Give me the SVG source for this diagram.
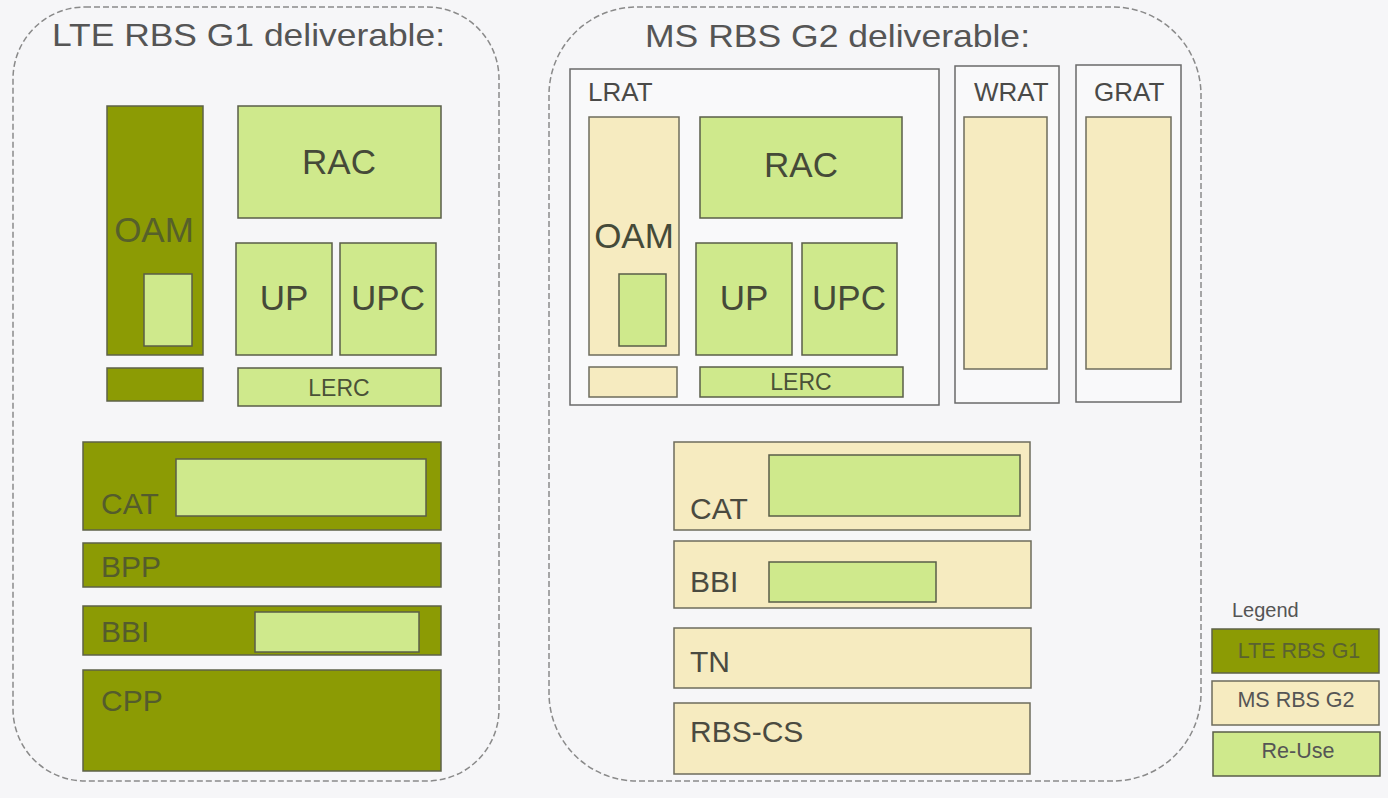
<svg xmlns="http://www.w3.org/2000/svg" width="1388" height="798" viewBox="0 0 1388 798">
<style>
text{font-family:"Liberation Sans",Arial,sans-serif;}
.bg{fill:#f6f6f8;}
.panel{fill:none;stroke:#8a8a8a;stroke-width:1.5;stroke-dasharray:6 3;}
.g1{fill:#8c9b04;stroke:#5e6248;stroke-width:1.5;}
.g2{fill:#f6ebc0;stroke:#6e6c5c;stroke-width:1.5;}
.re{fill:#cfe98c;stroke:#5a5e48;stroke-width:1.5;}
.rat{fill:#f9f9fa;stroke:#6a6a6a;stroke-width:1.5;}
.title{font-size:32px;fill:#555555;}
.big{font-size:35px;fill:#454a38;text-anchor:middle;}
.bigd{font-size:35px;fill:#56602a;text-anchor:middle;}
.mid{font-size:30px;fill:#4a4a40;}
.midd{font-size:30px;fill:#545c2c;}
.sm{font-size:23px;fill:#4a5238;text-anchor:middle;}
.rl{font-size:26px;fill:#4a4a48;}
.lg{font-size:21.5px;fill:#555555;text-anchor:middle;}
</style>
<rect class="bg" x="0" y="0" width="1388" height="798"/>

<g id="panel-g1">
<rect class="panel" x="13" y="7" width="486" height="774" rx="72" ry="72"/>
<text class="title" x="52" y="46" textLength="393" lengthAdjust="spacingAndGlyphs">LTE RBS G1 deliverable:</text>
</g>
<g id="panel-g2">
<rect class="panel" x="549" y="7" width="652" height="774" rx="88" ry="88"/>
<text class="title" x="645" y="47" textLength="385" lengthAdjust="spacingAndGlyphs">MS RBS G2 deliverable:</text>
</g>

<g id="g1-oam">
<rect class="g1" x="107" y="106" width="96" height="249"/>
<text class="bigd" x="154" y="242">OAM</text>
<rect class="re" x="144" y="274" width="48" height="72"/>
</g>
<g id="g1-oam-base"><rect class="g1" x="107" y="368" width="96" height="33"/></g>
<g id="g1-rac"><rect class="re" x="238" y="106" width="203" height="112"/><text class="big" x="339" y="174">RAC</text></g>
<g id="g1-up"><rect class="re" x="236" y="243" width="96" height="112"/><text class="big" x="284" y="310">UP</text></g>
<g id="g1-upc"><rect class="re" x="340" y="243" width="96" height="112"/><text class="big" x="388" y="310">UPC</text></g>
<g id="g1-lerc"><rect class="re" x="238" y="368" width="203" height="38"/><text class="sm" x="339" y="396">LERC</text></g>
<g id="g1-cat"><rect class="g1" x="83" y="442" width="358" height="88"/><rect class="re" x="176" y="459" width="250" height="57"/><text class="midd" x="101" y="514">CAT</text></g>
<g id="g1-bpp"><rect class="g1" x="83" y="543" width="358" height="44"/><text class="midd" x="101" y="577">BPP</text></g>
<g id="g1-bbi"><rect class="g1" x="83" y="606" width="358" height="49"/><rect class="re" x="255" y="612" width="164" height="40"/><text class="midd" x="101" y="642">BBI</text></g>
<g id="g1-cpp"><rect class="g1" x="83" y="670" width="358" height="101"/><text class="midd" x="101" y="711">CPP</text></g>

<g id="g2-lrat">
<rect class="rat" x="570" y="69" width="369" height="336"/>
<text class="rl" x="588" y="101">LRAT</text>
</g>
<g id="g2-oam">
<rect class="g2" x="589" y="117" width="90" height="238"/>
<text class="big" x="634" y="248">OAM</text>
<rect class="re" x="619" y="274" width="47" height="72"/>
</g>
<g id="g2-oam-base"><rect class="g2" x="589" y="367" width="88" height="30"/></g>
<g id="g2-rac"><rect class="re" x="700" y="117" width="202" height="101"/><text class="big" x="801" y="177">RAC</text></g>
<g id="g2-up"><rect class="re" x="696" y="243" width="96" height="112"/><text class="big" x="744" y="310">UP</text></g>
<g id="g2-upc"><rect class="re" x="802" y="243" width="95" height="112"/><text class="big" x="849" y="310">UPC</text></g>
<g id="g2-lerc"><rect class="re" x="700" y="367" width="203" height="30"/><text class="sm" x="801" y="390">LERC</text></g>
<g id="g2-wrat"><rect class="rat" x="955" y="66" width="104" height="337"/><text class="rl" x="974" y="101">WRAT</text><rect class="g2" x="964" y="117" width="83" height="252"/></g>
<g id="g2-grat"><rect class="rat" x="1076" y="65" width="105" height="337"/><text class="rl" x="1094" y="101">GRAT</text><rect class="g2" x="1086" y="117" width="85" height="252"/></g>
<g id="g2-cat"><rect class="g2" x="674" y="442" width="356" height="88"/><rect class="re" x="769" y="455" width="251" height="61"/><text class="mid" x="690" y="519">CAT</text></g>
<g id="g2-bbi"><rect class="g2" x="674" y="541" width="357" height="67"/><rect class="re" x="769" y="562" width="167" height="40"/><text class="mid" x="690" y="592">BBI</text></g>
<g id="g2-tn"><rect class="g2" x="674" y="628" width="357" height="60"/><text class="mid" x="690" y="672">TN</text></g>
<g id="g2-rbscs"><rect class="g2" x="674" y="703" width="356" height="71"/><text class="mid" x="690" y="742">RBS-CS</text></g>

<g id="legend">
<text x="1232" y="617" style="font-size:20px;fill:#555555;">Legend</text>
<rect class="g1" x="1212" y="629" width="167" height="44"/>
<text class="lg" x="1299" y="658" style="fill:#5a6230;">LTE RBS G1</text>
<rect class="g2" x="1212" y="681" width="167" height="44"/>
<text class="lg" x="1296" y="707">MS RBS G2</text>
<rect class="re" x="1213" y="732" width="167" height="44"/>
<text class="lg" x="1298" y="758">Re-Use</text>
</g>
<g id="connectors"></g>
</svg>
